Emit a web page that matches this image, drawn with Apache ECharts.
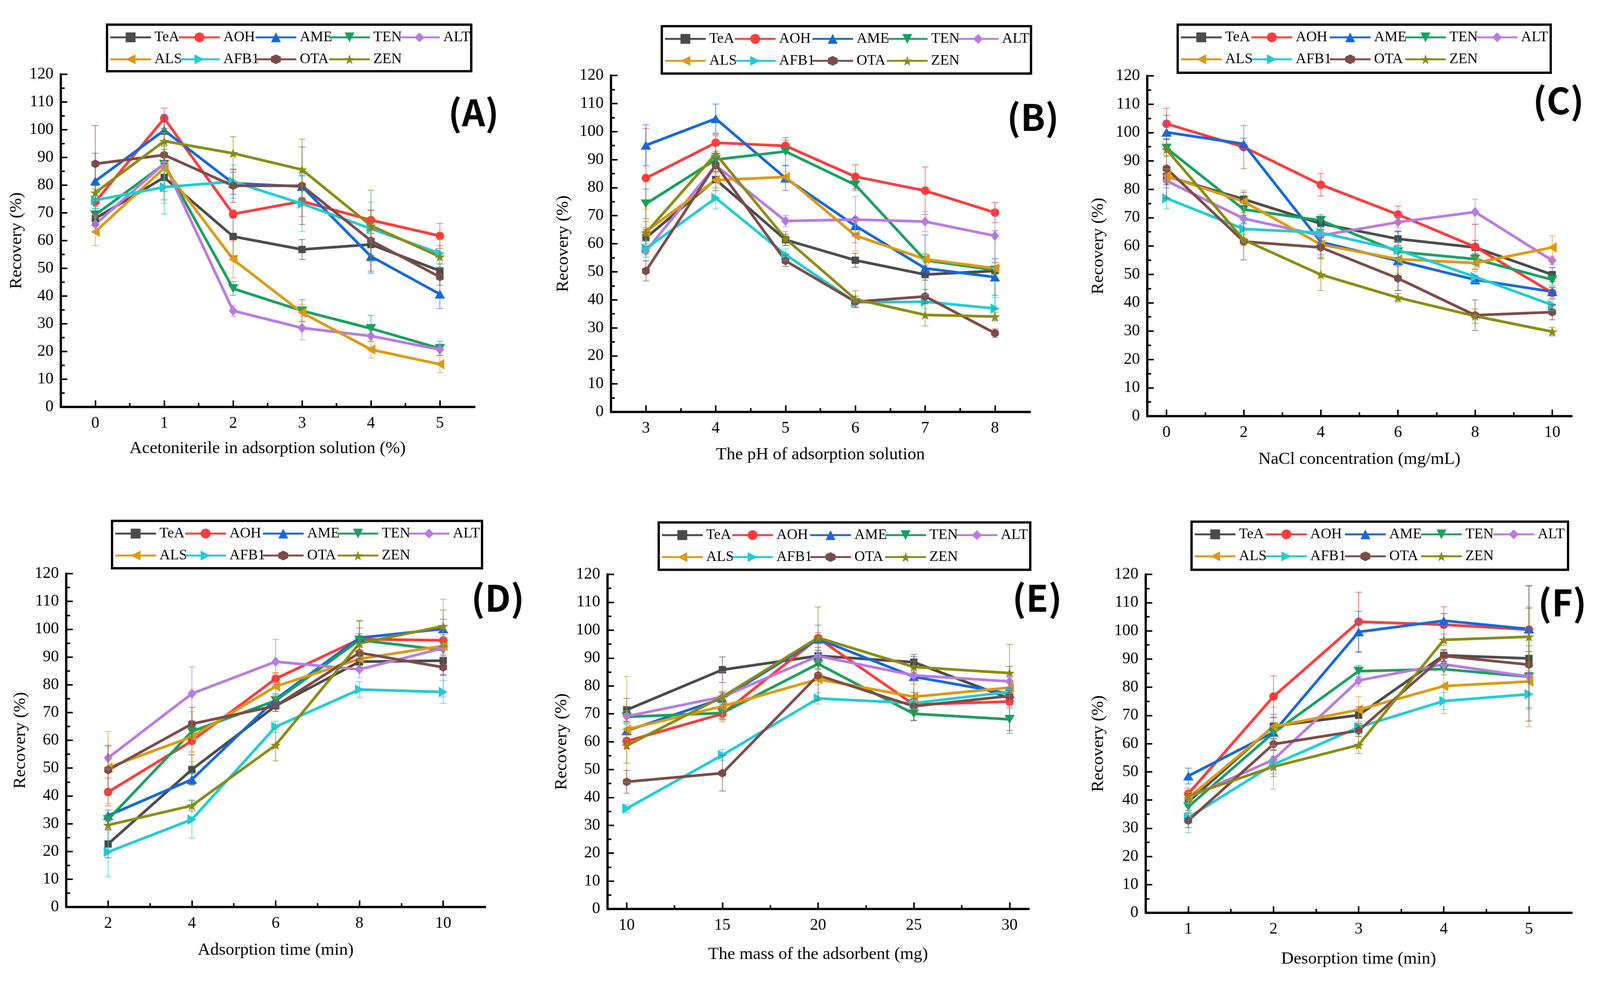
<!DOCTYPE html>
<html>
<head>
<meta charset="utf-8">
<script src="https://cdn.jsdelivr.net/npm/echarts@6/dist/echarts.min.js"></script>
<style>
html,body{margin:0;padding:0;background:#fff;overflow:hidden;}
#chart{width:4156px;height:2537px;transform-origin:0 0;}
</style>
</head>
<body>
<div id="chart"></div>
<script>
// ---------------- DATA ----------------
const seriesNames = ['TeA', 'AOH', 'AME', 'TEN', 'ALT', 'ALS', 'AFB1', 'OTA', 'ZEN'];
const yTicks = [0, 10, 20, 30, 40, 50, 60, 70, 80, 90, 100, 110, 120];

// (A) Acetonitrile in adsorption solution (%)
const xA = [0, 1, 2, 3, 4, 5];
const minorA = [0.5, 1.5, 2.5, 3.5, 4.5];
const valuesA = [
  [68.0, 82.8, 61.5, 56.8, 58.6, 49.1],
  [74.0, 104.1, 69.6, 74.2, 67.4, 61.7],
  [81.5, 99.8, 80.7, 79.5, 54.3, 40.7],
  [69.3, 87.6, 42.7, 34.7, 28.3, 21.1],
  [65.9, 87.8, 34.7, 28.5, 25.6, 20.7],
  [63.2, 86.2, 53.2, 34.0, 20.7, 15.4],
  [74.6, 79.3, 81.3, 73.3, 64.3, 55.4],
  [87.7, 90.9, 79.8, 79.8, 60.0, 46.9],
  [77.3, 95.9, 91.5, 85.6, 65.4, 54.2]
];
const errorsA = [
  [2.5, 5.0, 7.0, 3.6, 4.0, 2.5],
  [4.6, 3.7, 1.5, 5.5, 3.5, 4.5],
  [10.0, 5.7, 4.0, 4.0, 6.0, 5.2],
  [3.0, 12.9, 2.5, 4.0, 4.7, 2.5],
  [3.0, 2.0, 2.0, 4.3, 2.0, 2.0],
  [5.0, 12.7, 6.6, 3.0, 3.0, 3.0],
  [3.0, 9.7, 6.0, 10.0, 9.6, 5.0],
  [13.8, 2.0, 6.0, 14.0, 11.0, 3.0],
  [2.5, 4.0, 6.0, 11.0, 12.8, 4.0]
];

// (B) pH of adsorption solution
const xB = [3, 4, 5, 6, 7, 8];
const minorB = [3.5, 4.5, 5.5, 6.5, 7.5];
const valuesB = [
  [62.1, 82.9, 61.4, 54.1, 49.0, 50.3],
  [83.4, 96.0, 94.9, 83.9, 78.9, 71.1],
  [95.1, 104.6, 83.4, 66.4, 51.2, 48.1],
  [74.2, 90.0, 92.9, 81.0, 54.1, 50.6],
  [57.4, 87.9, 68.1, 68.6, 67.9, 62.8],
  [64.3, 82.7, 83.8, 62.9, 54.5, 51.2],
  [58.2, 76.3, 56.1, 39.1, 39.3, 36.9],
  [50.3, 88.2, 53.9, 39.3, 41.2, 28.1],
  [63.9, 92.0, 61.8, 40.2, 34.6, 34.0]
];
const errorsB = [
  [3.0, 4.0, 2.0, 2.5, 2.0, 3.0],
  [17.7, 3.0, 2.0, 4.3, 8.5, 3.6],
  [7.3, 5.2, 4.4, 3.0, 11.9, 6.5],
  [5.3, 2.0, 4.9, 2.0, 2.0, 14.0],
  [3.5, 3.0, 2.0, 8.3, 3.6, 11.8],
  [8.0, 3.0, 2.0, 5.5, 2.0, 2.0],
  [3.0, 3.9, 2.0, 1.5, 2.5, 4.0],
  [3.6, 2.5, 2.0, 2.0, 2.5, 1.5],
  [4.0, 6.5, 2.5, 3.0, 3.9, 1.5]
];

// (C) NaCl concentration (mg/mL)
const xC = [0, 2, 4, 6, 8, 10];
const minorC = [1, 3, 5, 7, 9];
const valuesC = [
  [84.6, 76.5, 67.9, 62.5, 59.5, 49.9],
  [103.1, 94.9, 81.6, 71.1, 59.7, 43.5],
  [100.1, 96.0, 61.4, 54.8, 48.1, 43.9],
  [94.5, 72.9, 69.0, 58.0, 55.4, 48.1],
  [83.0, 69.7, 63.7, 68.4, 72.0, 54.9],
  [84.7, 75.7, 60.5, 55.4, 54.0, 59.5],
  [76.8, 66.0, 64.7, 58.6, 49.1, 39.2],
  [87.3, 61.6, 59.5, 48.6, 35.6, 36.7],
  [94.0, 62.2, 49.9, 41.8, 35.3, 29.8]
];
const errorsC = [
  [3.0, 2.5, 2.5, 2.5, 2.5, 2.5],
  [5.5, 7.6, 4.0, 3.0, 8.0, 2.0],
  [6.0, 2.0, 4.5, 10.5, 1.5, 1.5],
  [3.0, 2.0, 2.0, 2.0, 2.0, 2.0],
  [2.5, 2.0, 2.0, 2.0, 4.5, 1.5],
  [2.5, 4.0, 5.0, 5.0, 2.0, 4.1],
  [3.7, 3.0, 2.0, 3.0, 2.0, 2.0],
  [10.5, 6.5, 3.5, 4.3, 5.4, 2.7],
  [2.0, 2.0, 5.6, 1.5, 2.5, 1.5]
];

// (D) Adsorption time (min)
const xD = [2, 4, 6, 8, 10];
const minorD = [3, 5, 7, 9];
const valuesD = [
  [22.7, 49.5, 72.4, 88.3, 88.7],
  [41.4, 59.8, 82.2, 96.4, 96.0],
  [32.9, 45.9, 74.8, 96.9, 100.1],
  [31.5, 63.2, 74.3, 96.1, 92.5],
  [53.7, 76.8, 88.3, 85.5, 93.2],
  [50.2, 61.3, 79.4, 89.3, 94.0],
  [19.8, 31.5, 64.9, 78.3, 77.4],
  [49.3, 65.9, 72.4, 91.5, 86.3],
  [29.5, 36.5, 58.3, 94.9, 101.1]
];
const errorsD = [
  [5.0, 5.3, 2.0, 2.0, 5.0],
  [5.0, 4.0, 2.0, 4.0, 2.0],
  [2.0, 2.0, 2.0, 1.5, 3.5],
  [2.0, 2.0, 2.0, 7.0, 2.0],
  [4.0, 9.7, 8.0, 3.0, 17.6],
  [13.0, 9.0, 5.0, 3.0, 3.0],
  [8.9, 6.7, 2.0, 2.8, 4.1],
  [8.9, 6.0, 2.0, 2.0, 3.0],
  [1.5, 2.0, 5.7, 8.0, 5.8]
];

// (E) Mass of the adsorbent (mg)
const xE = [10, 15, 20, 25, 30];
const minorE = [12.5, 17.5, 22.5, 27.5];
const valuesE = [
  [71.4, 85.8, 90.8, 88.5, 75.5],
  [60.2, 70.0, 97.1, 73.3, 74.4],
  [63.9, 75.5, 96.8, 83.3, 77.2],
  [68.9, 70.3, 87.9, 70.0, 68.0],
  [69.1, 76.1, 90.7, 83.8, 81.6],
  [64.4, 72.7, 82.4, 76.1, 79.4],
  [36.0, 55.2, 75.5, 73.8, 77.9],
  [45.6, 48.7, 83.8, 72.7, 76.4],
  [58.6, 76.1, 97.3, 86.8, 84.6]
];
const errorsE = [
  [4.1, 4.6, 3.0, 2.0, 11.5],
  [2.5, 2.0, 2.0, 2.0, 2.0],
  [2.5, 2.0, 5.0, 8.0, 2.0],
  [2.0, 2.0, 2.0, 2.5, 5.0],
  [2.0, 9.0, 2.0, 2.0, 2.0],
  [19.0, 5.0, 2.0, 4.5, 2.0],
  [1.5, 2.0, 2.0, 2.0, 6.0],
  [4.1, 6.4, 9.0, 5.0, 2.0],
  [6.3, 2.0, 11.0, 2.0, 10.3]
];

// (F) Desorption time (min)
const xF = [1, 2, 3, 4, 5];
const minorF = [1.5, 2.5, 3.5, 4.5];
const valuesF = [
  [39.3, 66.2, 70.1, 91.3, 90.2],
  [42.2, 76.7, 103.2, 102.2, 100.4],
  [48.5, 64.0, 99.6, 103.6, 100.6],
  [37.6, 63.8, 85.7, 86.4, 83.7],
  [40.9, 54.3, 82.4, 88.1, 83.8],
  [40.7, 66.0, 72.0, 80.4, 82.0],
  [33.8, 52.6, 65.8, 75.1, 77.5],
  [32.7, 59.8, 64.6, 91.1, 88.0],
  [41.5, 51.8, 59.5, 96.8, 97.9]
];
const errorsF = [
  [3.0, 3.0, 3.0, 2.0, 2.5],
  [2.0, 7.3, 10.5, 6.3, 15.5],
  [2.8, 6.4, 7.3, 2.5, 15.4],
  [2.0, 2.0, 2.0, 2.0, 11.0],
  [2.0, 5.0, 2.0, 2.0, 2.0],
  [2.0, 6.9, 4.7, 9.8, 16.0],
  [5.4, 8.7, 2.0, 3.0, 5.3],
  [2.5, 2.0, 2.0, 2.0, 20.0],
  [1.5, 3.5, 3.0, 2.0, 10.6]
];

const panelLabels = ['(A)', '(B)', '(C)', '(D)', '(E)', '(F)'];
const xAxisNames = [
  'Acetoniterile in adsorption solution (%)',
  'The pH of adsorption solution',
  'NaCl concentration (mg/mL)',
  'Adsorption time (min)',
  'The mass of the adsorbent (mg)',
  'Desorption time (min)'
];
const yAxisName = 'Recovery (%)';

// ---------------- STYLES / LAYOUT ----------------
const colors = ['#4B4B4B', '#FF3B3B', '#1468DC', '#17A15E', '#B97AE2', '#DC9A12', '#20CCD4', '#7D4B47', '#8B8B12'];
const hexPath = 'path://M0,-10 L8.66,-5 L8.66,5 L0,10 L-8.66,5 L-8.66,-5 Z';
const starPath = 'path://M0,-10 L2.35,-3.24 L9.51,-3.09 L3.8,1.24 L5.88,8.09 L0,4 L-5.88,8.09 L-3.8,1.24 L-9.51,-3.09 L-2.35,-3.24 Z';
const symbols = [
  {symbol: 'rect', size: 19, rotate: 0},
  {symbol: 'circle', size: 22, rotate: 0},
  {symbol: 'triangle', size: [27, 23], rotate: 0},
  {symbol: 'triangle', size: [27, 23], rotate: 180},
  {symbol: 'diamond', size: [22, 27], rotate: 0},
  {symbol: 'triangle', size: [27, 23], rotate: 90},
  {symbol: 'triangle', size: [27, 23], rotate: -90},
  {symbol: hexPath, size: 23, rotate: 0},
  {symbol: starPath, size: 27, rotate: 0}
];

const panels = [
  {x: xA, minor: minorA, values: valuesA, errors: errorsA},
  {x: xB, minor: minorB, values: valuesB, errors: errorsB},
  {x: xC, minor: minorC, values: valuesC, errors: errorsC},
  {x: xD, minor: minorD, values: valuesD, errors: errorsD},
  {x: xE, minor: minorE, values: valuesE, errors: errorsE},
  {x: xF, minor: minorF, values: valuesF, errors: errorsF}
];

const layouts = [
  {left: 158, right: 1232, top: 193, bottom: 1057, xmin: -0.5, xmax: 5.5, yGap: 92, xGap: 86, label: [1230, 292], box: [278, 64, 946, 121]},
  {left: 1587, right: 2675, top: 196, bottom: 1070, xmin: 2.5, xmax: 8.5, yGap: 101, xGap: 89, label: [2683, 304], box: [1719, 68, 959, 123]},
  {left: 2980, right: 4082, top: 197, bottom: 1081, xmin: -0.5, xmax: 10.5, yGap: 104, xGap: 90, label: [4048, 261], box: [3059, 64, 969, 125]},
  {left: 172, right: 1260, top: 1490, bottom: 2356, xmin: 1, xmax: 11, yGap: 96, xGap: 90, label: [1293, 1553], box: [291, 1353, 961, 123]},
  {left: 1578, right: 2672, top: 1492, bottom: 2361, xmin: 9, xmax: 31, yGap: 96, xGap: 96, label: [2694, 1553], box: [1711, 1357, 965, 123]},
  {left: 2976, right: 4082, top: 1492, bottom: 2371, xmin: 0.5, xmax: 5.5, yGap: 100, xGap: 98, label: [4058, 1565], box: [3095, 1355, 978, 125]}
];
const legendCols = [[0, 5], [1, 6], [2, 7], [3, 8], [4]];
const legendColFractions = [0.006, 0.195, 0.405, 0.607, 0.799];

const serif = 'Liberation Serif';
const tickFont = 42;
const nameFont = 45;

// ---------------- BUILD ----------------
const grid = [], xAxis = [], yAxis = [], series = [], legend = [], graphic = [];

function makeErrRender(color) {
  return function (params, api) {
    const x = api.value(0), lo = api.value(1), hi = api.value(2);
    const p1 = api.coord([x, hi]);
    const p2 = api.coord([x, lo]);
    const hw = 8.5;
    const style = {stroke: color, lineWidth: 2, opacity: 0.7};
    return {
      type: 'group',
      children: [
        {type: 'line', shape: {x1: p1[0], y1: p1[1], x2: p2[0], y2: p2[1]}, style: style},
        {type: 'line', shape: {x1: p1[0] - hw, y1: p1[1], x2: p1[0] + hw, y2: p1[1]}, style: style},
        {type: 'line', shape: {x1: p2[0] - hw, y1: p2[1], x2: p2[0] + hw, y2: p2[1]}, style: style}
      ]
    };
  };
}

panels.forEach(function (p, i) {
  const L = layouts[i];
  grid.push({left: L.left, top: L.top, width: L.right - L.left, height: L.bottom - L.top, containLabel: false, outerBoundsMode: 'none'});
  xAxis.push({
    gridIndex: i, type: 'value', min: L.xmin, max: L.xmax, position: 'bottom',
    axisLine: {show: true, onZero: false, lineStyle: {color: '#000', width: 6}},
    axisTick: {show: true, inside: true, length: 17, customValues: p.x, lineStyle: {color: '#000', width: 4}},
    axisLabel: {show: true, customValues: p.x, margin: 22, fontFamily: serif, fontSize: tickFont, color: '#000'},
    splitLine: {show: false},
    name: xAxisNames[i], nameLocation: 'middle', nameGap: L.xGap,
    nameTextStyle: {fontFamily: serif, fontSize: nameFont, color: '#000'}
  });
  xAxis.push({
    gridIndex: i, type: 'value', min: L.xmin, max: L.xmax, position: 'bottom',
    axisLine: {show: false, onZero: false},
    axisTick: {show: true, inside: true, length: 10, customValues: p.minor, lineStyle: {color: '#000', width: 4}},
    axisLabel: {show: false},
    splitLine: {show: false}
  });
  yAxis.push({
    gridIndex: i, type: 'value', min: 0, max: 120, interval: 10,
    axisLine: {show: true, onZero: false, lineStyle: {color: '#000', width: 6}},
    axisTick: {show: true, inside: true, length: 17, lineStyle: {color: '#000', width: 4}},
    minorTick: {show: true, splitNumber: 2, length: 10, lineStyle: {color: '#000', width: 4}},
    axisLabel: {margin: 19, fontFamily: serif, fontSize: tickFont, color: '#000'},
    splitLine: {show: false},
    name: yAxisName, nameLocation: 'middle', nameGap: L.yGap, nameRotate: 90,
    nameTextStyle: {fontFamily: serif, fontSize: nameFont, color: '#000'}
  });

  seriesNames.forEach(function (name, s) {
    const sym = symbols[s];
    series.push({
      type: 'line', name: name, xAxisIndex: 2 * i, yAxisIndex: i,
      data: p.x.map(function (xv, k) { return [xv, p.values[s][k]]; }),
      symbol: sym.symbol, symbolSize: sym.size, symbolRotate: sym.rotate, symbolKeepAspect: true,
      showAllSymbol: true,
      lineStyle: {color: colors[s], width: 7},
      itemStyle: {color: colors[s]},
      z: 2, animation: false
    });
  });
  seriesNames.forEach(function (name, s) {
    series.push({
      type: 'custom', xAxisIndex: 2 * i, yAxisIndex: i,
      data: p.x.map(function (xv, k) { return [xv, p.values[s][k] - p.errors[s][k], p.values[s][k] + p.errors[s][k]]; }),
      encode: {x: 0, y: [1, 2]},
      renderItem: makeErrRender(colors[s]),
      z: 3, silent: true, animation: false
    });
  });

  const b = L.box;
  graphic.push({type: 'rect', shape: {x: b[0], y: b[1], width: b[2], height: b[3]}, style: {fill: 'none', stroke: '#000', lineWidth: 6}, z: 10});
  const row1 = b[1] + 33;
  const row2 = b[1] + 90;
  legendCols.forEach(function (col, c) {
    legend.push({
      orient: 'vertical',
      left: b[0] + legendColFractions[c] * b[2],
      top: row1 - 20,
      padding: 0,
      itemGap: (row2 - row1) - 40,
      itemWidth: 106, itemHeight: 32,
      data: col.map(function (k) { return seriesNames[k]; }),
      lineStyle: {width: 5},
      textStyle: {fontFamily: serif, fontSize: 38, color: '#000', lineHeight: 40, padding: [0, 0, 0, 4]}
    });
  });

  graphic.push({
    type: 'text', x: L.label[0], y: L.label[1], z: 10,
    style: {text: panelLabels[i], fill: '#000', font: 'bold 94px "Noto Sans CJK SC", "Noto Sans", sans-serif', textAlign: 'center', textVerticalAlign: 'middle'}
  });
});

// fit the fixed 4156x2537 drawing into the actual viewport with a uniform scale
const el = document.getElementById('chart');
const vw = window.innerWidth || 4156, vh = window.innerHeight || 2537;
const fit = Math.min(vw / 4156, vh / 2537);
if (Math.abs(fit - 1) > 0.0005) {
  el.style.transform = 'scale(' + fit + ')';
}
const chart = echarts.init(el, null, {width: 4156, height: 2537});
chart.setOption({
  backgroundColor: '#fff',
  animation: false,
  grid: grid, xAxis: xAxis, yAxis: yAxis, series: series, legend: legend, graphic: graphic
});
</script>
</body>
</html>
